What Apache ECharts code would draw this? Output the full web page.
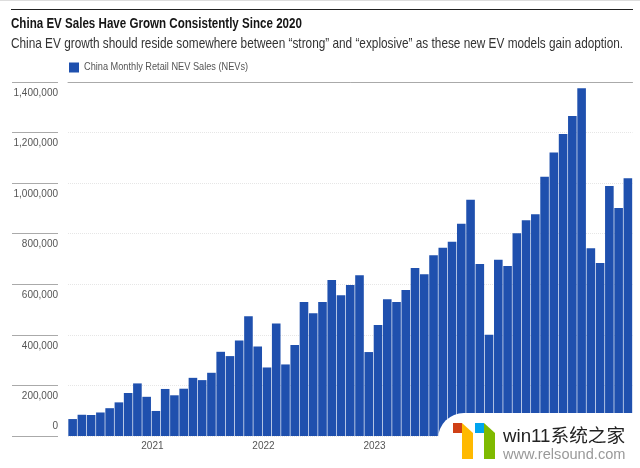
<!DOCTYPE html>
<html>
<head>
<meta charset="utf-8">
<style>html,body{margin:0;padding:0;background:#fff}#chart{width:640px;height:468px}</style>
<script src="https://cdn.jsdelivr.net/npm/echarts@6/dist/echarts.min.js"></script>
</head>
<body>
<div id="chart"></div>
<script>
var seriesName = 'China Monthly Retail NEV Sales (NEVs)';
var sales2020 = [67000, 84000, 83000, 93000, 110000, 133000, 170000, 208000, 155000];
var sales2021 = [99000, 186000, 161000, 187000, 230000, 221000, 250000, 333000, 316000, 378000, 474000, 354000];
var sales2022 = [271000, 445000, 283000, 360000, 530000, 485000, 530000, 617000, 557000, 597000, 636000, 332000];
var sales2023 = [439000, 541000, 530000, 577000, 664000, 640000, 715000, 744000, 768000, 839000, 934000, 680000];
var sales2024 = [400000, 697000, 672000, 802000, 853000, 877000, 1025000, 1121000, 1194000, 1266000, 1375000, 743000];
var sales2025 = [684000, 989000, 902000, 1019000];
var salesValues = sales2020.concat(sales2021, sales2022, sales2023, sales2024, sales2025);

var monthLabels = [];
for (var i = 0; i < salesValues.length; i++) {
    var m = i + 3; // first bar is April 2020
    monthLabels.push((2020 + Math.floor(m / 12)) + '-' + ((m % 12) + 1));
}

var yTicks = [200000, 400000, 600000, 800000, 1000000, 1200000, 1400000];
// no condensed face is installed, so the long texts are squeezed with scaleX
var fontName = '"Liberation Sans", sans-serif';

function sharedYAxis(extra) {
    return Object.assign({
        type: 'value',
        position: 'left',
        offset: 10,
        min: 0,
        max: 1400000,
        interval: 100000,
        axisLine: { show: false },
        axisTick: { show: false },
        splitLine: { show: false }
    }, extra);
}

var chart = echarts.init(document.getElementById('chart'), null, { renderer: 'canvas' });

chart.setOption({
    backgroundColor: '#fff',
    animation: false,
    legend: {
        left: 64,
        top: 57,
        itemWidth: 10,
        itemHeight: 10,
        icon: 'rect',
        data: [seriesName],
        formatter: function () { return ' '; },
        textStyle: { fontSize: 11 }
    },
    grid: { left: 68, right: 7.5, top: 82, bottom: 32 },
    xAxis: [
        {
            type: 'category',
            data: monthLabels,
            axisLine: { show: false },
            axisTick: { show: false },
            axisLabel: {
                interval: function (idx) { return idx % 12 === 9; },
                formatter: function (v) { return v.split('-')[0]; },
                fontFamily: fontName,
                fontSize: 10,
                color: '#555',
                margin: 5,
                padding: [0, 7, 0, 0]
            }
        },
        {
            type: 'category',
            position: 'top',
            data: monthLabels,
            axisLine: { show: true, onZero: false, lineStyle: { color: '#aaa', width: 1 } },
            axisTick: { show: false },
            axisLabel: { show: false }
        }
    ],
    yAxis: [
        sharedYAxis({
            splitLine: { show: true, lineStyle: { color: '#e6e6e6', type: 'dotted', width: 1 } },
            axisTick: {
                show: true,
                length: 46,
                customValues: [0].concat(yTicks),
                lineStyle: { color: '#aaa', width: 1 }
            },
            axisLabel: {
                customValues: yTicks,
                margin: 0,
                verticalAlign: 'top',
                padding: [6, 0, 0, 0],
                fontFamily: fontName,
                fontSize: 10,
                color: '#555',
                formatter: function (v) { return v.toLocaleString('en-US'); }
            }
        }),
        sharedYAxis({
            axisLabel: {
                customValues: [0],
                margin: 0,
                verticalAlign: 'bottom',
                padding: [0, 0, 5, 0],
                fontFamily: fontName,
                fontSize: 10,
                color: '#555'
            }
        })
    ],
    series: [
        {
            name: seriesName,
            type: 'bar',
            data: salesValues,
            barWidth: '93%',
            itemStyle: { color: '#1f50ae' }
        }
    ],
    graphic: [
        { type: 'rect', z: 50, shape: { x: 0, y: 0, width: 640, height: 1 }, style: { fill: '#ddd' } },
        { type: 'line', z: 50, shape: { x1: 11, y1: 9.5, x2: 633, y2: 9.5 }, style: { stroke: '#222', lineWidth: 1.2 } },
        {
            type: 'text', z: 50, x: 11, y: 16, scaleX: 0.772,
            style: {
                text: 'China EV Sales Have Grown Consistently Since 2020',
                fill: '#151515', fontFamily: fontName, fontSize: 15, fontWeight: 'bold'
            }
        },
        {
            type: 'text', z: 50, x: 11, y: 36, scaleX: 0.814,
            style: {
                text: 'China EV growth should reside somewhere between \u201cstrong\u201d and \u201cexplosive\u201d as these new EV models gain adoption.',
                fill: '#333', fontFamily: fontName, fontSize: 14.5
            }
        },
        {
            type: 'text', z: 50, x: 84, y: 60.5, scaleX: 0.8,
            style: { text: seriesName, fill: '#555', fontFamily: fontName, fontSize: 11.5 }
        },
        // site stamp in the lower right corner
        { type: 'rect', z: 100, shape: { x: 438, y: 413, width: 240, height: 80, r: 26 }, style: { fill: '#fff' } },
        { type: 'rect', z: 101, shape: { x: 453, y: 423, width: 9, height: 10 }, style: { fill: '#cf4016' } },
        { type: 'polygon', z: 101, shape: { points: [[462, 423], [473, 433], [473, 459], [462, 459]] }, style: { fill: '#ffb900' } },
        { type: 'rect', z: 101, shape: { x: 475, y: 423, width: 9, height: 10 }, style: { fill: '#00a4ef' } },
        { type: 'polygon', z: 101, shape: { points: [[484, 423], [495, 433], [495, 459], [484, 459]] }, style: { fill: '#7fba00' } },
        { type: 'text', z: 101, x: 503, y: 428, style: { text: 'win11\u7cfb\u7edf\u4e4b\u5bb6', fill: '#222', fontSize: 18.7, fontFamily: '"Liberation Sans", "Noto Sans CJK SC", sans-serif' } },
        { type: 'text', z: 101, x: 503, y: 447, style: { text: 'www.relsound.com', fill: '#999', fontSize: 14.6, fontFamily: fontName } }
    ]
});
</script>
</body>
</html>
